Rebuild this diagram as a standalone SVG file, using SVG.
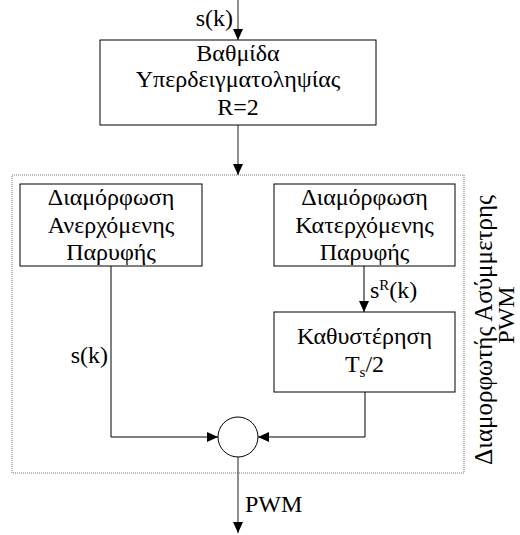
<svg xmlns="http://www.w3.org/2000/svg" width="520" height="535" viewBox="0 0 520 535">
<defs>
<marker id="ah" markerWidth="12" markerHeight="10" refX="11" refY="5" orient="auto" markerUnits="userSpaceOnUse">
<path d="M0,0 L11,5 L0,10 Z" fill="#000"/>
</marker>
<style>
.c{text-anchor:middle}
.box{fill:#fff;stroke:#000;stroke-width:1}
.ln{fill:none;stroke:#000;stroke-width:1}
.gl{fill:none;stroke:#444;stroke-width:1.2}
</style>
</defs>
<rect width="520" height="535" fill="#fff"/>
<g font-family="Liberation Serif, serif" font-size="24" fill="#000">
<g id="outer">
<rect x="12" y="175" width="452" height="298" fill="none" stroke="#777" stroke-width="1" stroke-dasharray="1,1"/>
<text transform="translate(492,330) rotate(-90)" class="c" font-size="25">Διαμορφωτής Ασύμμετρης</text>
<text transform="translate(514,315) rotate(-90)" class="c" font-size="24">PWM</text>
</g>
<g id="connectors">
<line x1="238" y1="0" x2="238" y2="40" class="gl" marker-end="url(#ah)"/>
<text x="233" y="26" text-anchor="end">s(k)</text>
<line x1="238" y1="125" x2="238" y2="175" class="gl" marker-end="url(#ah)"/>
<line x1="364" y1="266" x2="364" y2="312" class="ln" marker-end="url(#ah)"/>
<text x="370" y="298">s<tspan font-size="15" dy="-8">R</tspan><tspan dy="8">(k)</tspan></text>
<polyline points="111,266 111,437 218,437" class="ln" marker-end="url(#ah)"/>
<text x="108" y="363" text-anchor="end">s(k)</text>
<polyline points="365,392 365,437 258,437" class="ln" marker-end="url(#ah)"/>
<line x1="238" y1="457" x2="238" y2="533" class="gl" marker-end="url(#ah)"/>
<text x="245" y="512">PWM</text>
</g>
<g id="upsampler">
<rect x="100" y="40" width="276" height="85" class="box"/>
<text x="238" y="61" class="c">Βαθμίδα</text>
<text x="238" y="87" class="c">Υπερδειγματοληψίας</text>
<text x="238" y="115" class="c">R=2</text>
</g>
<g id="leading">
<rect x="20" y="184" width="182" height="82" class="box"/>
<text x="111" y="205" class="c">Διαμόρφωση</text>
<text x="111" y="233" class="c">Ανερχόμενης</text>
<text x="111" y="260" class="c">Παρυφής</text>
</g>
<g id="trailing">
<rect x="274" y="184" width="181" height="82" class="box"/>
<text x="364.5" y="205" class="c">Διαμόρφωση</text>
<text x="364.5" y="233" class="c">Κατερχόμενης</text>
<text x="364.5" y="260" class="c">Παρυφής</text>
</g>
<g id="delay">
<rect x="274" y="312" width="181" height="80" class="box"/>
<text x="364.5" y="344" class="c">Καθυστέρηση</text>
<text x="364.5" y="372" class="c">T<tspan font-size="15" dy="5">s</tspan><tspan dy="-5">/2</tspan></text>
</g>
<g id="sum">
<circle cx="238" cy="437" r="20" fill="#fff" stroke="#000" stroke-width="1"/>
</g>
</g>
</svg>
